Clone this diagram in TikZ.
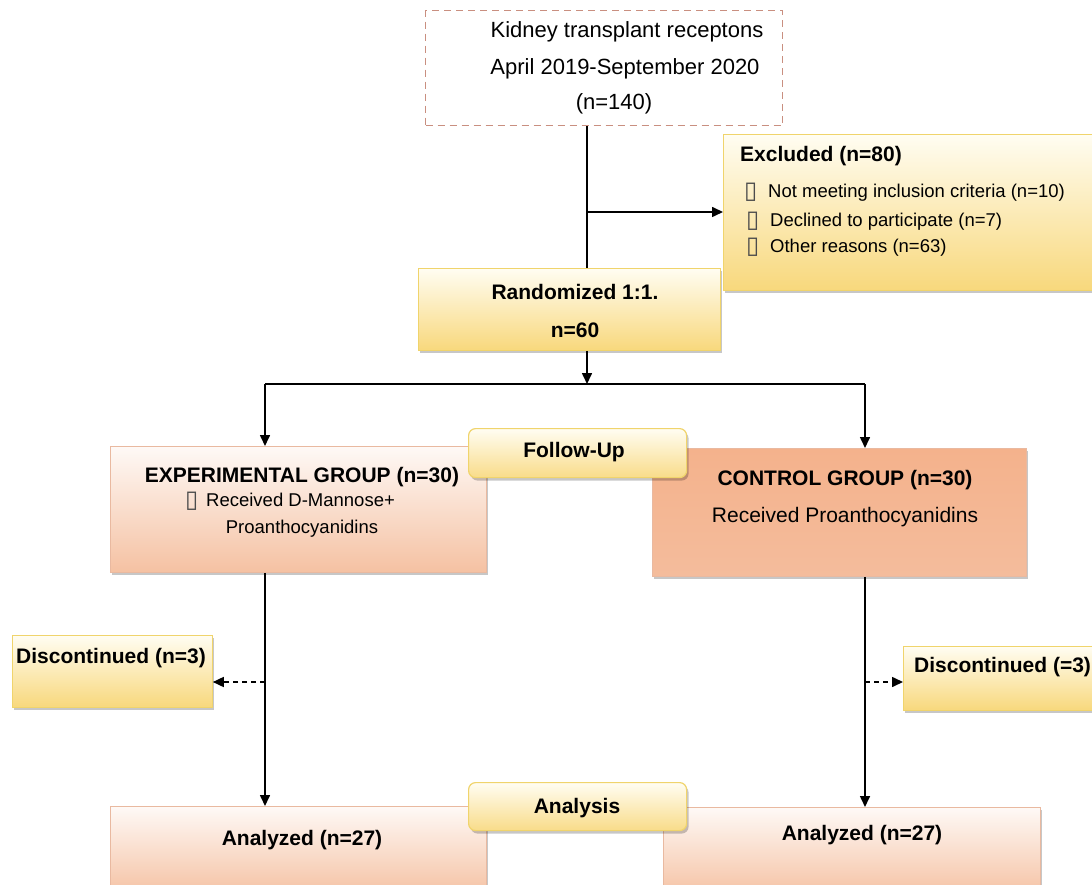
\documentclass[tikz,border=0pt]{standalone}
\usepackage{fontspec}
\setmainfont{Liberation Sans}
\newfontfamily\symfont{DejaVu Sans}
\usetikzlibrary{arrows.meta,shadows}
\definecolor{ylwA}{HTML}{FFFDF2}
\definecolor{ylwB}{HTML}{F8D87C}
\definecolor{ylwE}{HTML}{F0D46C}
\definecolor{orgA}{HTML}{FEF9F6}
\definecolor{orgB}{HTML}{F5C1A2}
\definecolor{orgE}{HTML}{E9B9A0}
\definecolor{ctlA}{HTML}{F4B28C}
\definecolor{ctlM}{HTML}{FBE0D2}
\definecolor{ctlB}{HTML}{F4BC9C}
\definecolor{dashE}{HTML}{C98F80}
\tikzset{
  box/.style={rectangle, inner sep=0pt, anchor=north west, line width=0.8pt,
    drop shadow={shadow xshift=2pt, shadow yshift=-3pt, fill=black, opacity=0.22}},
  ybox/.style={box, draw=ylwE, top color=ylwA, bottom color=ylwB},
  obox/.style={box, draw=orgE, top color=orgA, bottom color=orgB},
  cbox/.style={box, draw=orgE, top color=ctlA, middle color=ctlM, bottom color=ctlB},
  tag/.style={box, rounded corners=7pt, draw=ylwE, line width=1.2pt, top color=ylwA, bottom color=ylwB!90!white},
  txt/.style={inner sep=0pt, anchor=base, font=\fontsize{21}{25}\selectfont},
  btxt/.style={inner sep=0pt, anchor=base, font=\fontsize{21}{25}\selectfont\bfseries},
  stxt/.style={inner sep=0pt, anchor=base west, font=\fontsize{18.5}{22}\selectfont},
  glyph/.style={inner sep=0pt, anchor=base west, font=\fontsize{24}{26}\selectfont\symfont, text=black!70},
  line/.style={line width=1.6pt, draw=black},
  arr/.style={line, -{Triangle[length=11pt,width=10pt]}},
  darr/.style={line, dash pattern=on 5pt off 4pt, -{Triangle[length=11pt,width=10pt]}},
}
\begin{document}
\begin{tikzpicture}[x=1pt,y=-1pt]
\useasboundingbox (0,0) rectangle (1092,885);
\fill[white] (0,0) rectangle (1092,885);

% coordinates for connector lines
\coordinate (stem) at (587,0);
\coordinate (lx) at (265,0);
\coordinate (rx) at (865,0);
\coordinate (br) at (587,212);
\coordinate (split) at (587,384);
\coordinate (dl) at (265,682);
\coordinate (dr) at (865,682);

% top box
\node[rectangle, inner sep=0pt, anchor=north west, draw=dashE, line width=1.1pt,
  dash pattern=on 7pt off 5pt, fill=white, minimum width=357pt, minimum height=115pt] (top) at (425,10) {};
\node[txt, font=\fontsize{22}{26}\selectfont] (t1) at (627,38) {Kidney transplant receptons};
\node[txt, font=\fontsize{22}{26}\selectfont] (t2) at (625,75) {April 2019-September 2020};
\node[txt, font=\fontsize{22}{26}\selectfont] (t3) at (614,110) {(n=140)};

% excluded
\node[ybox, minimum width=372pt, minimum height=156pt] (excl) at (723,134) {};
\node[btxt, anchor=base west] (ex0) at (740,162) {Excluded (n=80)};
\node[glyph] (g1) at (744,199) {▯};
\node[stxt] (ex1) at (768,198) {Not meeting inclusion criteria (n=10)};
\node[glyph] (g2) at (746,228) {▯};
\node[stxt] (ex2) at (770,227) {Declined to participate (n=7)};
\node[glyph] (g3) at (746,254) {▯};
\node[stxt] (ex3) at (770,253) {Other reasons (n=63)};

% randomized
\node[ybox, minimum width=302pt, minimum height=82pt] (rand) at (418,268) {};
\node[btxt] (r1) at (575,300) {Randomized 1:1.};
\node[btxt] (r2) at (575,337) {n=60};

% experimental
\node[obox, minimum width=376pt, minimum height=126pt] (expg) at (110,446) {};
\node[btxt] (e1) at (302,482) {EXPERIMENTAL GROUP (n=30)};
\node[glyph] (g4) at (185,507) {▯};
\node[stxt] (e2) at (206,506) {Received D-Mannose+};
\node[stxt, anchor=base] (e3) at (302,533) {Proanthocyanidins};

% control
\node[cbox, minimum width=374pt, minimum height=128pt] (ctl) at (652,448) {};
\node[btxt] (c1) at (845,485) {CONTROL GROUP (n=30)};
\node[txt] (c2) at (845,522) {Received Proanthocyanidins};

% follow-up tag
\node[tag, minimum width=218pt, minimum height=49pt] (fu) at (468,428) {};
\node[btxt] (fut) at (574,457) {Follow-Up};

% discontinued
\node[ybox, minimum width=200pt, minimum height=72pt] (discl) at (12,635) {};
\node[btxt, anchor=base west] (dlt) at (16,663) {Discontinued (n=3)};
\node[ybox, minimum width=200pt, minimum height=64pt] (discr) at (903,646) {};
\node[btxt, anchor=base west] (drt) at (914,672) {Discontinued (=3)};

% analyzed
\node[obox, minimum width=376pt, minimum height=90pt] (anl) at (110,806) {};
\node[btxt] (a1) at (302,845) {Analyzed (n=27)};
\node[obox, minimum width=377pt, minimum height=90pt] (anr) at (663,807) {};
\node[btxt] (a2) at (862,840) {Analyzed (n=27)};

% analysis tag
\node[tag, minimum width=218pt, minimum height=48pt] (an) at (468,782) {};
\node[btxt] (ant) at (577,813) {Analysis};

% connectors
\draw[line] (top.south -| stem) -- (rand.north -| stem);
\draw[arr] (br) -- (br -| excl.west);
\draw[arr] (rand.south -| stem) -- (split);
\draw[line] (split -| lx) -- (split -| rx);
\draw[arr] (split -| lx) -- (expg.north -| lx);
\draw[arr] (split -| rx) -- (ctl.north -| rx);
\draw[arr] (expg.south -| lx) -- (anl.north -| lx);
\draw[arr] (ctl.south -| rx) -- (anr.north -| rx);
\draw[darr] (dl) -- (dl -| discl.east);
\draw[darr] (dr) -- (dr -| discr.west);
\end{tikzpicture}
\end{document}
